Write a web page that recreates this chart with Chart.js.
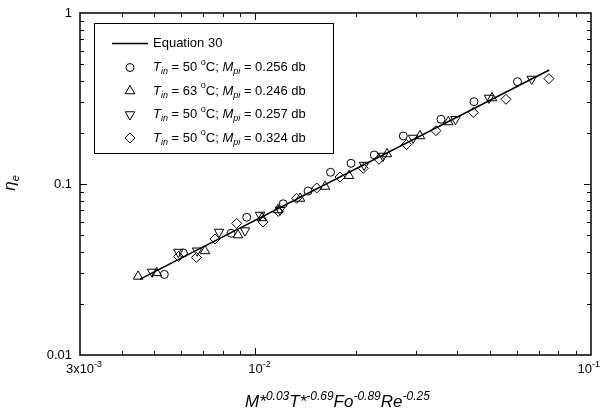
<!DOCTYPE html>
<html>
<head>
<meta charset="utf-8">
<script src="https://cdn.jsdelivr.net/npm/chart.js@4.4.1/dist/chart.umd.min.js"></script>
<style>
  html, body { margin: 0; padding: 0; background: #fff; }
  canvas { display: block; }
</style>
</head>
<body>
<canvas id="chart" width="601" height="420"></canvas>
<script>
// --- data ---
// Equation 30 (straight line in log-log)
const eqX = [0.00453, 0.0751];
const eqY = [0.0278, 0.464];

// T_in = 50 C; M_pi = 0.256 db  (circles)
const circX = [0.00535, 0.00610, 0.00846, 0.00942, 0.0121, 0.01435, 0.01674, 0.01927, 0.0226, 0.02758, 0.03572, 0.04479, 0.0604];
const circY = [0.0296, 0.0395, 0.0515, 0.0639, 0.0766, 0.0910, 0.1171, 0.1321, 0.1478, 0.1909, 0.2390, 0.3030, 0.3964];

// T_in = 63 C; M_pi = 0.246 db  (triangles up)
const upX = [0.00447, 0.00508, 0.00707, 0.00887, 0.01046, 0.01167, 0.01358, 0.01612, 0.0190, 0.02466, 0.03093, 0.03755, 0.0507];
const upY = [0.0288, 0.0302, 0.0406, 0.0503, 0.0633, 0.0705, 0.0823, 0.0967, 0.1118, 0.1498, 0.1909, 0.2305, 0.3184];

// T_in = 50 C; M_pi = 0.257 db  (triangles down)
const downX = [0.00492, 0.00589, 0.00670, 0.00779, 0.00931, 0.01032, 0.01184, 0.02107, 0.02399, 0.02948, 0.03946, 0.04966, 0.06658];
const downY = [0.0306, 0.0400, 0.0407, 0.0524, 0.0534, 0.0659, 0.0705, 0.1291, 0.1458, 0.1858, 0.2390, 0.3184, 0.4112];

// T_in = 50 C; M_pi = 0.324 db  (diamonds)
const diaX = [0.00590, 0.00667, 0.00758, 0.00879, 0.01053, 0.0117, 0.01326, 0.01523, 0.01787, 0.02096, 0.02334, 0.0282, 0.03451, 0.04459, 0.0558, 0.07493];
const diaY = [0.0377, 0.0372, 0.0477, 0.0588, 0.0600, 0.0691, 0.0825, 0.0948, 0.1099, 0.1235, 0.1395, 0.1702, 0.2050, 0.2619, 0.3129, 0.4129];

// axes
const xMin = 0.003, xMax = 0.1;
const yMin = 0.01, yMax = 1;
const xTickVals = [0.003, 0.01, 0.1];
const xTickBase = ['3x10', '10', '10'];
const xTickExp = ['-3', '-2', '-1'];
const yTickVals = [0.01, 0.1, 1];
const yTickText = ['0.01', '0.1', '1'];

// legend
const legendTin = ['50', '63', '50', '50'];
const legendMpi = ['0.256', '0.246', '0.257', '0.324'];
const legendShape = ['circle', 'up', 'down', 'diamond'];

const FONT = '"Liberation Sans", Arial, sans-serif';
const pts = (xs, ys) => xs.map((x, i) => ({ x, y: ys[i] }));

function setFont(ctx, size, italic) {
  ctx.font = (italic ? 'italic ' : '') + size + 'px ' + FONT;
}
// parts: [text, size, italic, dy]
function richWidth(ctx, parts) {
  let w = 0;
  parts.forEach(p => { setFont(ctx, p[1], p[2]); w += ctx.measureText(p[0]).width; });
  return w;
}
function drawRich(ctx, x, y, parts) {
  parts.forEach(p => {
    setFont(ctx, p[1], p[2]);
    ctx.fillText(p[0], x, y + (p[3] || 0));
    x += ctx.measureText(p[0]).width;
  });
  return x;
}

function drawMarker(ctx, shape, x, y) {
  ctx.beginPath();
  if (shape === 'circle') {
    ctx.arc(x, y, 4, 0, Math.PI * 2);
  } else if (shape === 'up' || shape === 'down') {
    const r = 5.5, s = shape === 'up' ? 1 : -1;
    ctx.moveTo(x, y - s * r);
    ctx.lineTo(x + r * Math.sin(2 * Math.PI / 3), y + s * r / 2);
    ctx.lineTo(x - r * Math.sin(2 * Math.PI / 3), y + s * r / 2);
    ctx.closePath();
  } else {
    const r = 5;
    ctx.moveTo(x - r, y); ctx.lineTo(x, y - r); ctx.lineTo(x + r, y); ctx.lineTo(x, y + r);
    ctx.closePath();
  }
  ctx.stroke();
}

const decor = {
  id: 'decor',
  afterDraw(chart) {
    const ctx = chart.ctx, a = chart.chartArea;
    const xs = chart.scales.x, ys = chart.scales.y;
    ctx.save();
    ctx.strokeStyle = '#000';
    ctx.fillStyle = '#000';

    // frame
    ctx.lineWidth = 1.5;
    ctx.strokeRect(a.left, a.top, a.right - a.left, a.bottom - a.top);

    // ticks (inward on all four sides)
    ctx.lineWidth = 1;
    ctx.beginPath();
    [0.001, 0.01].forEach(d => {
      for (let k = 1; k <= 9; k++) {
        const v = k * d;
        if (v <= xMin * 1.0001 || v >= xMax * 0.9999) continue;
        const len = k === 1 ? 7 : 4;
        const px = Math.round(xs.getPixelForValue(v)) + 0.5;
        ctx.moveTo(px, a.bottom); ctx.lineTo(px, a.bottom - len);
        ctx.moveTo(px, a.top); ctx.lineTo(px, a.top + len);
      }
    });
    [0.01, 0.1].forEach(d => {
      for (let k = 1; k <= 9; k++) {
        const v = k * d;
        if (v <= yMin * 1.0001 || v >= yMax * 0.9999) continue;
        const len = k === 1 ? 7 : 4;
        const py = Math.round(ys.getPixelForValue(v)) + 0.5;
        ctx.moveTo(a.left, py); ctx.lineTo(a.left + len, py);
        ctx.moveTo(a.right, py); ctx.lineTo(a.right - len, py);
      }
    });
    ctx.stroke();

    // x tick labels
    ctx.textBaseline = 'alphabetic';
    ctx.textAlign = 'left';
    xTickVals.forEach((v, i) => {
      const px = xs.getPixelForValue(v);
      setFont(ctx, 13, false);
      const bw = ctx.measureText(xTickBase[i]).width;
      const parts = [[xTickBase[i], 13, false, 0], [xTickExp[i], 9, false, -6]];
      const tw = richWidth(ctx, parts);
      let x0 = px - bw / 2;
      if (x0 + tw > 600) x0 = 600 - tw;
      drawRich(ctx, x0, 373, parts);
    });

    // y tick labels
    ctx.textAlign = 'right';
    ctx.textBaseline = 'middle';
    setFont(ctx, 13, false);
    yTickVals.forEach((v, i) => {
      ctx.fillText(yTickText[i], a.left - 8, ys.getPixelForValue(v));
    });

    // axis titles
    ctx.textAlign = 'left';
    ctx.textBaseline = 'alphabetic';
    const xt = [
      ['M*', 17, true, 0], ['0.03', 12, true, -7],
      ['T*', 17, true, 0], ['-0.69', 12, true, -7],
      ['Fo', 17, true, 0], ['-0.89', 12, true, -7],
      ['Re', 17, true, 0], ['-0.25', 12, true, -7]
    ];
    const xtw = richWidth(ctx, xt);
    drawRich(ctx, (a.left + a.right) / 2 - xtw / 2 + 2, 407, xt);

    const yt = [['\u03B7', 17, true, 0], ['e', 11, true, 4]];
    const ytw = richWidth(ctx, yt);
    ctx.save();
    ctx.translate(15, 183);
    ctx.rotate(-Math.PI / 2);
    drawRich(ctx, -ytw / 2, 0, yt);
    ctx.restore();

    // legend box
    ctx.lineWidth = 1;
    ctx.strokeRect(94.5, 23.5, 239, 130);
    const rowY = [43.5, 67.5, 91, 114.5, 138];
    ctx.textBaseline = 'middle';
    ctx.lineWidth = 1.5;
    ctx.beginPath();
    ctx.moveTo(112, rowY[0]); ctx.lineTo(148, rowY[0]);
    ctx.stroke();
    drawRich(ctx, 153, rowY[0], [['Equation 30', 13, false, 0]]);
    ctx.lineWidth = 1;
    legendShape.forEach((s, i) => {
      const y = rowY[i + 1];
      drawMarker(ctx, s, 130, y);
      drawRich(ctx, 153, y, [
        ['T', 13, true, 0], ['in', 9, true, 4],
        [' = ' + legendTin[i] + ' ', 13, false, 0], ['o', 9, false, -5],
        ['C; ', 13, false, 0],
        ['M', 13, true, 0], ['pi', 9, true, 4],
        [' = ' + legendMpi[i] + ' db', 13, false, 0]
      ]);
    });
    ctx.restore();
  }
};

const hollow = 'rgba(0,0,0,0)';
new Chart(document.getElementById('chart'), {
  type: 'scatter',
  data: {
    datasets: [
      { type: 'line', label: 'Equation 30', data: pts(eqX, eqY), borderColor: '#000', borderWidth: 1.5, pointRadius: 0, fill: false, tension: 0 },
      { label: 'c', data: pts(circX, circY), pointStyle: 'circle', pointRadius: 4, borderColor: '#000', backgroundColor: hollow, borderWidth: 1 },
      { label: 'u', data: pts(upX, upY), pointStyle: 'triangle', pointRadius: 5.5, borderColor: '#000', backgroundColor: hollow, borderWidth: 1 },
      { label: 'd', data: pts(downX, downY), pointStyle: 'triangle', rotation: 180, pointRotation: 180, pointRadius: 5.5, borderColor: '#000', backgroundColor: hollow, borderWidth: 1 },
      { label: 'r', data: pts(diaX, diaY), pointStyle: 'rectRot', pointRadius: 5, borderColor: '#000', backgroundColor: hollow, borderWidth: 1 }
    ]
  },
  options: {
    responsive: false,
    animation: false,
    events: [],
    layout: { padding: { left: 80, right: 10, top: 13, bottom: 65 } },
    plugins: { legend: { display: false }, tooltip: { enabled: false } },
    scales: {
      x: { type: 'logarithmic', min: xMin, max: xMax, display: false },
      y: { type: 'logarithmic', min: yMin, max: yMax, display: false }
    }
  },
  plugins: [decor]
});
</script>
</body>
</html>
